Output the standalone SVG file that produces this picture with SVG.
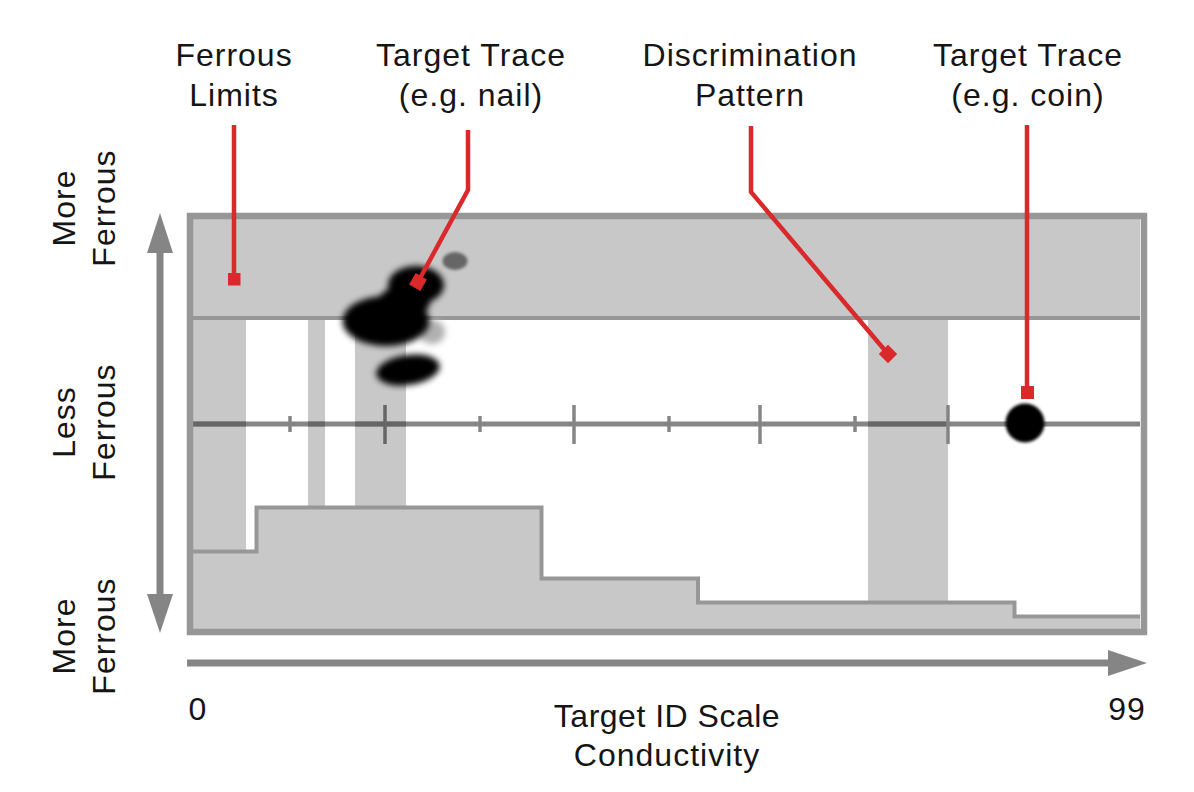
<svg xmlns="http://www.w3.org/2000/svg" width="1194" height="792" viewBox="0 0 1194 792">
<style>
.lbl{font-family:"Liberation Sans",Arial,sans-serif;font-size:32px;fill:#151515;text-anchor:middle;letter-spacing:1px}
.band{fill:#c8c8c8}
.axis{stroke:#858585;stroke-width:5}
.axisd{stroke:#666;stroke-width:5}
.tick{stroke:#858585;stroke-width:3.5}
.tickd{stroke:#666;stroke-width:3.5}
.red{fill:none;stroke:#d9292a;stroke-width:4.5}
.redsq{fill:#d9292a}
.arrow{fill:#858585}
</style>
<defs>
<filter id="blur" x="-40%" y="-40%" width="180%" height="180%"><feGaussianBlur stdDeviation="3.2"/></filter>
<filter id="blur2" x="-30%" y="-30%" width="160%" height="160%"><feGaussianBlur stdDeviation="1.6"/></filter>
</defs>
<rect width="1194" height="792" fill="#fff"/>

<g id="chart">
<rect x="190" y="216" width="954" height="416" fill="#fff"/>
<rect class="band" x="193" y="219" width="947" height="99"/>
<rect class="band" x="193" y="320" width="53" height="232"/>
<rect class="band" x="308" y="320" width="17" height="188"/>
<rect class="band" x="355" y="320" width="51" height="188"/>
<rect class="band" x="868" y="320" width="80" height="283"/>
<polygon class="band" points="193,551.5 256.5,551.5 256.5,507.5 541.5,507.5 541.5,578.5 698,578.5 698,602.5 1014.5,602.5 1014.5,616.5 1140,616.5 1140,629 193,629"/>
<polyline points="193,551.5 256.5,551.5 256.5,507.5 541.5,507.5 541.5,578.5 698,578.5 698,602.5 1014.5,602.5 1014.5,616.5 1140,616.5" fill="none" stroke="#979797" stroke-width="4"/>
<line x1="193" y1="318" x2="1140" y2="318" stroke="#979797" stroke-width="4"/>
<g id="scale">
<line class="axis" x1="193" y1="424" x2="1140" y2="424"/>
<line class="axisd" x1="193" y1="424" x2="246" y2="424"/>
<line class="axisd" x1="308" y1="424" x2="325" y2="424"/>
<line class="axisd" x1="355" y1="424" x2="406" y2="424"/>
<line class="axisd" x1="868" y1="424" x2="948" y2="424"/>
<line class="tick" x1="290" y1="416" x2="290" y2="432"/>
<line class="tickd" x1="385" y1="405" x2="385" y2="444"/>
<line class="tick" x1="480" y1="416" x2="480" y2="432"/>
<line class="tick" x1="574" y1="405" x2="574" y2="444"/>
<line class="tick" x1="669" y1="416" x2="669" y2="432"/>
<line class="tick" x1="760" y1="405" x2="760" y2="444"/>
<line class="tick" x1="855" y1="416" x2="855" y2="432"/>
<line class="tick" x1="948" y1="405" x2="948" y2="444"/>
</g>
<rect x="190" y="216" width="954" height="416" fill="none" stroke="#979797" stroke-width="6.5"/>
</g>

<g id="nail-trace">
<ellipse cx="432" cy="332" rx="13" ry="12" fill="#b0b0b0" filter="url(#blur)"/>
<ellipse cx="455" cy="261" rx="12.5" ry="9" fill="#666" filter="url(#blur2)"/>
<g filter="url(#blur)" fill="#000">
<ellipse cx="386" cy="321" rx="43.5" ry="25"/>
<ellipse cx="416" cy="285" rx="28" ry="19"/>
<ellipse cx="404" cy="302" rx="26" ry="16"/>
<ellipse cx="408" cy="370" rx="32" ry="15" transform="rotate(-8 408 370)"/>
</g>
</g>
<g id="coin-trace">
<circle cx="1025" cy="423" r="19.5" fill="#000" filter="url(#blur2)"/>
</g>

<g id="connectors">
<line class="red" x1="234" y1="125" x2="234" y2="279"/>
<rect class="redsq" x="228" y="273" width="12.5" height="12.5"/>
<polyline class="red" points="468,130 468,190 418,282"/>
<rect class="redsq" x="411.5" y="275.5" width="13" height="13" transform="rotate(30 418 282)"/>
<polyline class="red" points="751,126 751,192 888,354"/>
<rect class="redsq" x="881.5" y="347.5" width="13" height="13" transform="rotate(45 888 354)"/>
<line class="red" x1="1027" y1="125" x2="1027" y2="390"/>
<rect class="redsq" x="1021" y="386" width="13" height="13"/>
</g>

<g id="axes">
<rect class="arrow" x="156.5" y="248" width="7" height="350"/>
<polygon class="arrow" points="160,213 147,253 173,253"/>
<polygon class="arrow" points="160,633 147,594 173,594"/>
<rect class="arrow" x="187" y="659.5" width="925" height="7"/>
<polygon class="arrow" points="1147,663 1108,650 1108,676"/>
</g>

<g id="labels">
<text class="lbl" x="234" y="66">Ferrous</text>
<text class="lbl" x="234" y="106">Limits</text>
<text class="lbl" x="471" y="66">Target Trace</text>
<text class="lbl" x="471" y="106">(e.g. nail)</text>
<text class="lbl" x="750" y="66">Discrimination</text>
<text class="lbl" x="750" y="106">Pattern</text>
<text class="lbl" x="1028" y="66">Target Trace</text>
<text class="lbl" x="1028" y="106">(e.g. coin)</text>
<g transform="translate(75 208) rotate(-90)"><text class="lbl" x="0" y="0">More</text><text class="lbl" x="0" y="40">Ferrous</text></g>
<g transform="translate(75 422) rotate(-90)"><text class="lbl" x="0" y="0">Less</text><text class="lbl" x="0" y="40">Ferrous</text></g>
<g transform="translate(75 636) rotate(-90)"><text class="lbl" x="0" y="0">More</text><text class="lbl" x="0" y="40">Ferrous</text></g>
<text class="lbl" x="198" y="720">0</text>
<text class="lbl" x="1127" y="720">99</text>
<text class="lbl" x="667" y="727" style="letter-spacing:0.5px">Target ID Scale</text>
<text class="lbl" x="667" y="766">Conductivity</text>
</g>
</svg>
